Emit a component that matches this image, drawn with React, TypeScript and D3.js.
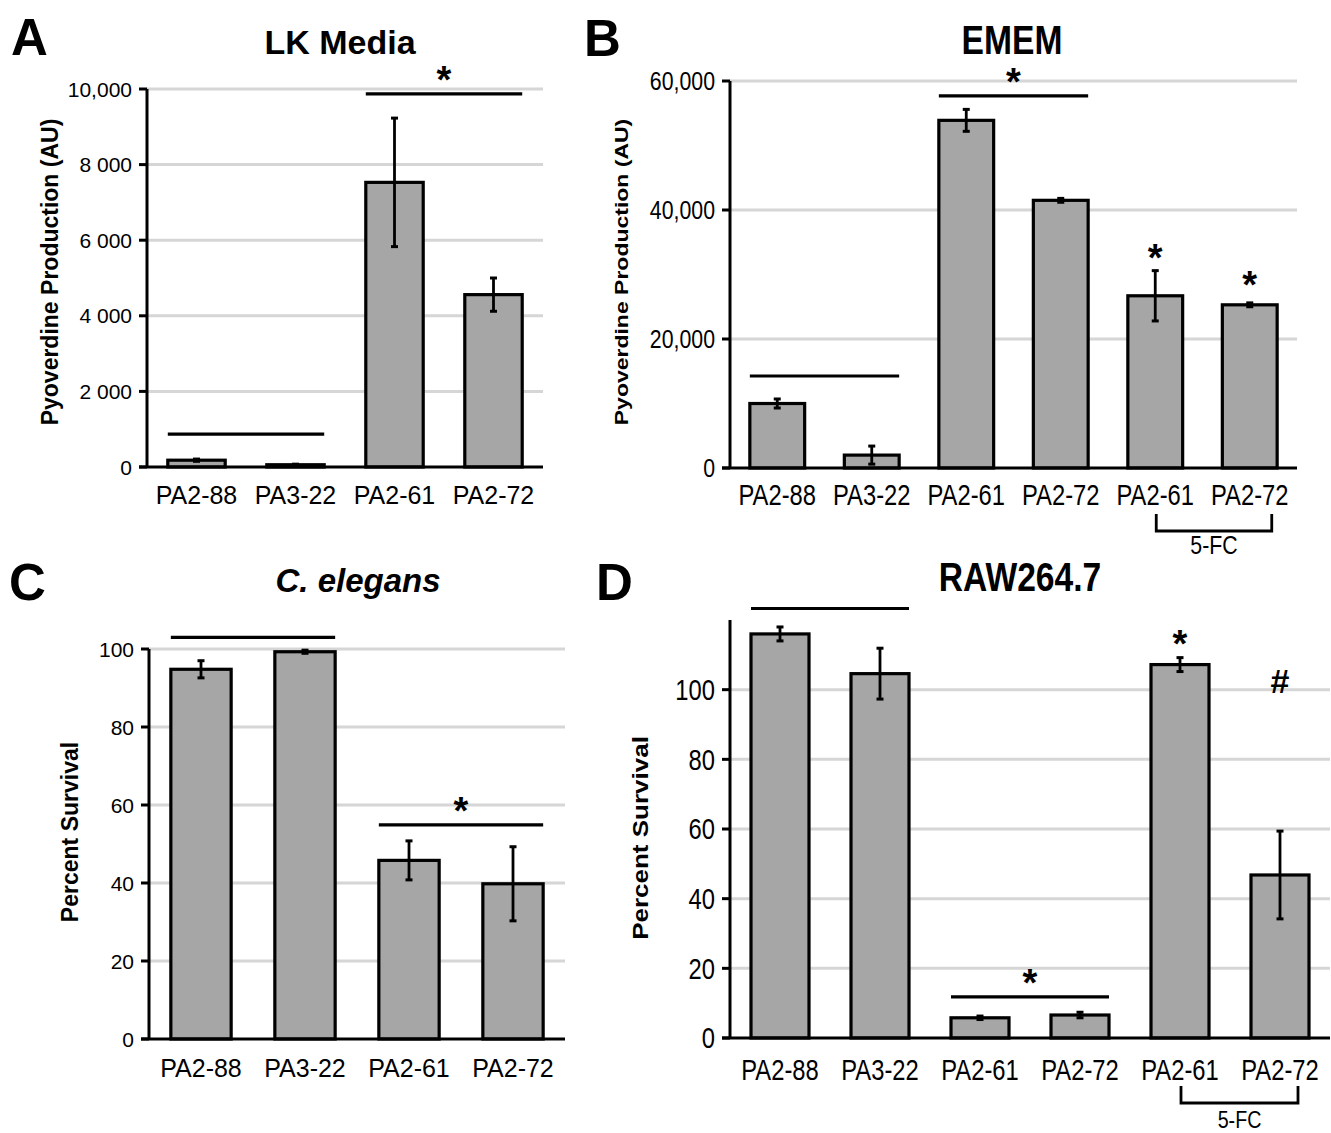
import { useEffect, useRef } from 'react'
import * as d3 from 'd3'

// strains on the x axis (the last two of the 6-bar panels are the 5-FC treated ones)
const strains4 = ['PA2-88', 'PA3-22', 'PA2-61', 'PA2-72']
const strains6 = ['PA2-88', 'PA3-22', 'PA2-61', 'PA2-72', 'PA2-61', 'PA2-72']

// A — pyoverdine in LK media
const lkMean = [180, 60, 7530, 4560]
const lkErr = [30, 15, 1700, 440]
const lkTicks = [0, 2000, 4000, 6000, 8000, 10000]
const lkTickLabels = ['0', '2 000', '4 000', '6 000', '8 000', '10,000']

// B — pyoverdine in EMEM
const ememMean = [10000, 2000, 53900, 41500, 26700, 25300]
const ememErr = [700, 1400, 1700, 300, 3900, 300]
const ememTicks = [0, 20000, 40000, 60000]
const ememTickLabels = ['0', '20,000', '40,000', '60,000']

// C — C. elegans survival
const celMean = [94.8, 99.3, 45.8, 39.8]
const celErr = [2.2, 0.4, 5, 9.5]

// D — RAW264.7 survival
const rawMean = [116, 104.6, 5.8, 6.6, 107.2, 46.8]
const rawErr = [2, 7.3, 0.5, 0.8, 2, 12.6]

const survTicks = [0, 20, 40, 60, 80, 100]
const survTickLabels = ['0', '20', '40', '60', '80', '100']

// significance lines: [first bar, last bar, value, label above]
const lkLines: [number, number, number, string][] = [[0, 1, 870, ''], [2, 3, 9870, '*']]
const ememLines: [number, number, number, string][] = [[0, 1, 14260, ''], [2, 3, 57700, '*']]
const celLines: [number, number, number, string][] = [[0, 1, 103, ''], [2, 3, 54.9, '*']]
const rawLines: [number, number, number, string][] = [[0, 1, 123.3, ''], [2, 3, 11.8, '*']]

// single-bar marks: [bar, value where glyph sits, glyph]
const ememMarks: [number, number, string][] = [[4, 33800, '*'], [5, 29600, '*']]
const rawMarks: [number, number, string][] = [[4, 115.5, '*'], [5, 102.9, '#']]

const SANS = '"Liberation Sans", Arial, sans-serif'

type Panel = {
  cats: string[]; mean: number[]; err: number[]
  max: number; ticks: number[]; tickLabels: string[]
  x0: number; x1: number; yTop: number; y0: number
  sx: number // horizontal squeeze of the B/D text (those panels look condensed)
  tickSize: number; labelSize: number; labelY: number
  yTitle: string; yTitleX: number; yTitleY: number; yTitleSize: number
  title: string; titleX: number; titleY: number; titleSize: number; italic?: boolean
  letter: string; letterX: number; letterY: number
  lines: [number, number, number, string][]
  marks?: [number, number, string][]
  fc?: { y: number; textY: number; size: number; right: number }
}

function drawPanel(svg: d3.Selection<SVGSVGElement, unknown, null, undefined>, p: Panel) {
  const g = svg.append('g')
  const idx = d3.range(p.cats.length)
  const x = d3.scaleBand<number>().domain(idx).range([p.x0, p.x1]).paddingInner(0.42).paddingOuter(0.21)
  const y = d3.scaleLinear().domain([0, p.max]).range([p.y0, p.yTop])
  const at = (px: number, py: number) => `translate(${px},${py}) scale(${p.sx},1)`

  // gridlines
  g.selectAll('line.grid').data(p.ticks.filter(t => t > 0)).join('line')
    .attr('x1', p.x0).attr('x2', p.x1).attr('y1', d => y(d)).attr('y2', d => y(d))
    .attr('stroke', '#d6d6d6').attr('stroke-width', 3)

  // bars
  g.selectAll('rect.bar').data(idx).join('rect')
    .attr('x', i => x(i)!).attr('width', x.bandwidth())
    .attr('y', i => y(p.mean[i])).attr('height', i => p.y0 - y(p.mean[i]))
    .attr('fill', '#a6a6a6').attr('stroke', '#000').attr('stroke-width', 3.2)

  // error bars
  idx.forEach(i => {
    const cx = x(i)! + x.bandwidth() / 2
    const hi = y(p.mean[i] + p.err[i]), lo = y(p.mean[i] - p.err[i])
    g.append('line').attr('x1', cx).attr('x2', cx).attr('y1', hi).attr('y2', lo)
      .attr('stroke', '#000').attr('stroke-width', 2.8)
    ;[hi, lo].forEach(v => g.append('line').attr('x1', cx - 3.5).attr('x2', cx + 3.5).attr('y1', v).attr('y2', v)
      .attr('stroke', '#000').attr('stroke-width', 3))
  })

  // axes
  g.append('line').attr('x1', p.x0).attr('x2', p.x0).attr('y1', p.yTop).attr('y2', p.y0)
    .attr('stroke', '#000').attr('stroke-width', 3)
  g.append('line').attr('x1', p.x0 - 8).attr('x2', p.x1).attr('y1', p.y0).attr('y2', p.y0)
    .attr('stroke', '#000').attr('stroke-width', 3)
  g.selectAll('line.tick').data(p.ticks).join('line')
    .attr('x1', p.x0 - 8).attr('x2', p.x0).attr('y1', d => y(d)).attr('y2', d => y(d))
    .attr('stroke', '#000').attr('stroke-width', 3)
  g.selectAll('text.tick').data(p.ticks).join('text')
    .attr('transform', d => at(p.x0 - 15, y(d))).attr('dy', '0.36em')
    .attr('text-anchor', 'end').attr('font-family', SANS).attr('font-size', p.tickSize)
    .text((d, i) => p.tickLabels[i])

  // category labels
  g.selectAll('text.cat').data(idx).join('text')
    .attr('transform', i => at(x(i)! + x.bandwidth() / 2, p.labelY))
    .attr('text-anchor', 'middle').attr('font-family', SANS).attr('font-size', p.labelSize)
    .text(i => p.cats[i])

  // significance lines
  p.lines.forEach(([a, b, v, lab]) => {
    g.append('line').attr('x1', x(a)!).attr('x2', x(b)! + x.bandwidth()).attr('y1', y(v)).attr('y2', y(v))
      .attr('stroke', '#000').attr('stroke-width', 3.2)
    if (lab) {
      g.append('text').attr('x', (x(a)! + x(b)! + x.bandwidth()) / 2).attr('y', y(v) - 1)
        .attr('text-anchor', 'middle').attr('font-family', SANS).attr('font-weight', 700).attr('font-size', 38)
        .text(lab)
    }
  })
  ;(p.marks || []).forEach(([i, v, lab]) => {
    g.append('text').attr('x', x(i)! + x.bandwidth() / 2).attr('y', y(v) + (lab === '#' ? 13 : 21))
      .attr('text-anchor', 'middle').attr('font-family', SANS).attr('font-weight', 700)
      .attr('font-size', lab === '#' ? 34 : 38).text(lab)
  })

  // 5-FC bracket under the last two bars
  if (p.fc) {
    const l = x(4)! + x.bandwidth() / 2 + 1, r = x(5)! + x.bandwidth() / 2 + p.fc.right
    g.append('path').attr('d', `M${l},${p.fc.y}V${p.fc.y + 17}H${r}V${p.fc.y}`)
      .attr('fill', 'none').attr('stroke', '#000').attr('stroke-width', 2.8)
    g.append('text').attr('transform', at((l + r) / 2, p.fc.textY)).attr('text-anchor', 'middle')
      .attr('font-family', SANS).attr('font-size', p.fc.size).text('5-FC')
  }

  // titles
  g.append('text').attr('transform', `translate(${p.yTitleX},${p.yTitleY}) rotate(-90) scale(1,${p.sx})`)
    .attr('text-anchor', 'middle').attr('font-family', SANS).attr('font-weight', 700)
    .attr('font-size', p.yTitleSize).text(p.yTitle)
  g.append('text').attr('transform', at(p.titleX, p.titleY)).attr('text-anchor', 'middle')
    .attr('font-family', SANS).attr('font-weight', 700).attr('font-size', p.titleSize)
    .attr('font-style', p.italic ? 'italic' : 'normal').text(p.title)
  g.append('text').attr('x', p.letterX).attr('y', p.letterY)
    .attr('font-family', SANS).attr('font-weight', 700).attr('font-size', 51).text(p.letter)
}

export default function App() {
  const ref = useRef<SVGSVGElement>(null)

  useEffect(() => {
    document.body.style.margin = '0'
    const svg = d3.select(ref.current!)
    svg.selectAll('*').remove()

    drawPanel(svg, {
      cats: strains4, mean: lkMean, err: lkErr, max: 10000, ticks: lkTicks, tickLabels: lkTickLabels,
      x0: 147, x1: 543, yTop: 89, y0: 467, sx: 1,
      tickSize: 21, labelSize: 25, labelY: 504,
      yTitle: 'Pyoverdine Production (AU)', yTitleX: 58, yTitleY: 272, yTitleSize: 23,
      title: 'LK Media', titleX: 340, titleY: 54, titleSize: 34,
      letter: 'A', letterX: 11, letterY: 55, lines: lkLines,
    })
    drawPanel(svg, {
      cats: strains6, mean: ememMean, err: ememErr, max: 60000, ticks: ememTicks, tickLabels: ememTickLabels,
      x0: 730, x1: 1297, yTop: 81, y0: 468, sx: 0.82,
      tickSize: 26, labelSize: 29, labelY: 505,
      yTitle: 'Pyoverdine Production (AU)', yTitleX: 628, yTitleY: 272, yTitleSize: 23,
      title: 'EMEM', titleX: 1012, titleY: 54, titleSize: 41,
      letter: 'B', letterX: 584, letterY: 56, lines: ememLines, marks: ememMarks,
      fc: { y: 514, textY: 554, size: 26, right: 22 },
    })
    drawPanel(svg, {
      cats: strains4, mean: celMean, err: celErr, max: 100, ticks: survTicks, tickLabels: survTickLabels,
      x0: 149, x1: 565, yTop: 649, y0: 1039, sx: 1,
      tickSize: 21, labelSize: 25, labelY: 1077,
      yTitle: 'Percent Survival', yTitleX: 78, yTitleY: 832, yTitleSize: 23,
      title: 'C. elegans', titleX: 358, titleY: 592, titleSize: 33, italic: true,
      letter: 'C', letterX: 9, letterY: 600, lines: celLines,
    })
    drawPanel(svg, {
      cats: strains6, mean: rawMean, err: rawErr, max: 120, ticks: survTicks, tickLabels: survTickLabels,
      x0: 730, x1: 1330, yTop: 620, y0: 1038, sx: 0.82,
      tickSize: 29, labelSize: 29, labelY: 1080,
      yTitle: 'Percent Survival', yTitleX: 648, yTitleY: 838, yTitleSize: 26,
      title: 'RAW264.7', titleX: 1020, titleY: 591, titleSize: 41,
      letter: 'D', letterX: 596, letterY: 600, lines: rawLines, marks: rawMarks,
      fc: { y: 1086, textY: 1128, size: 24, right: 18 },
    })
  }, [])

  return <svg ref={ref} width={1331} height={1133} style={{ display: 'block', background: '#fff' }} />
}
